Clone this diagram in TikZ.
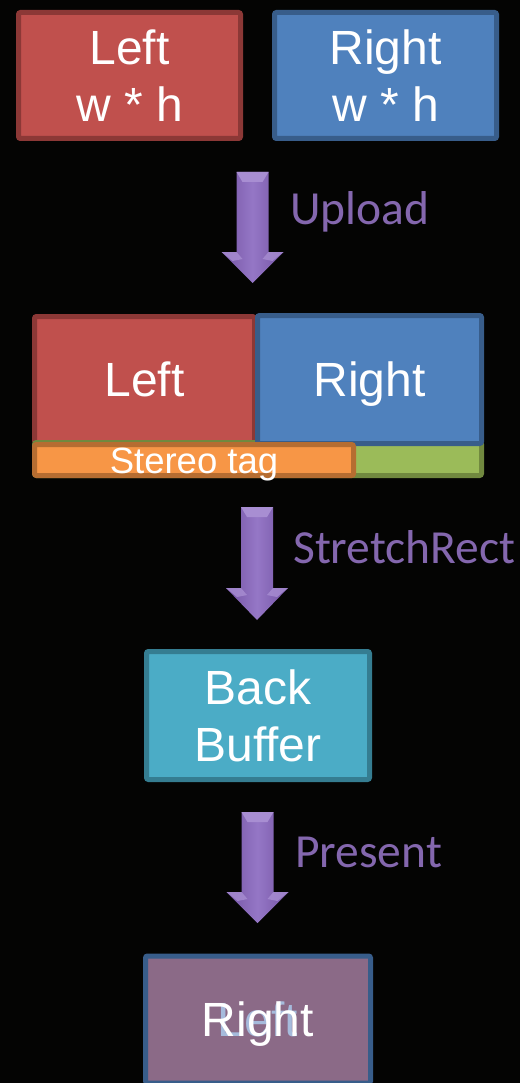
\documentclass[tikz,border=0pt]{standalone}
\usepackage{fontspec}
\setmainfont{Liberation Sans}
\newfontfamily\lblfont{Carlito}
\definecolor{bg}{HTML}{040403}
\definecolor{redF}{HTML}{C0504D}
\definecolor{redD}{HTML}{8C3836}
\definecolor{bluF}{HTML}{4F81BD}
\definecolor{bluD}{HTML}{385D8A}
\definecolor{cyaF}{HTML}{4BACC6}
\definecolor{cyaD}{HTML}{357D91}
\definecolor{grnF}{HTML}{9BBB59}
\definecolor{grnD}{HTML}{71893F}
\definecolor{orgF}{HTML}{F79646}
\definecolor{orgD}{HTML}{B66D31}
\definecolor{purF}{HTML}{8B6A87}
\definecolor{arrD}{HTML}{7454A4}
\definecolor{arrL}{HTML}{9577C6}
\definecolor{arrH}{HTML}{A88ED2}
\definecolor{lblC}{HTML}{8467AE}
\definecolor{ghost}{HTML}{A9C4E6}
\newcommand\purplearrow[4]{%
  \path[left color=arrD, right color=arrD, middle color=arrL]
    (#1-16,#2) -- (#1+16,#2) -- (#1+16,#3) -- (#1+31,#3) -- (#1,#4)
    -- (#1-31,#3) -- (#1-16,#3) -- cycle;
  \fill[arrH] (#1-16,#2) -- (#1+16,#2) -- (#1+10,#2+10) -- (#1-10,#2+10) -- cycle;
  \fill[arrH, opacity=.8] (#1-31,#3) -- (#1-16,#3) -- (#1-10,#3+7) -- (#1-20,#3+9) -- cycle;
  \fill[arrH, opacity=.8] (#1+31,#3) -- (#1+16,#3) -- (#1+10,#3+7) -- (#1+20,#3+9) -- cycle;
}
\begin{document}
\begin{tikzpicture}[x=1pt, y=-1pt,
  box/.style={rectangle, draw, line width=5pt, rounded corners=2pt, inner sep=0pt,
    text=white, font=\fontsize{48}{57}\selectfont, align=center},
  lbl/.style={anchor=base west, inner sep=0pt, text=lblC, font=\lblfont\fontsize{47.5}{52}\selectfont}]
\useasboundingbox (0,0) rectangle (520,1083);
\fill[bg] (0,0) rectangle (520,1083);

% top row
\node[box, fill=redF, draw=redD, minimum width=222pt, minimum height=126pt] (L0) at (129.5,75.5) {Left\\w * h};
\node[box, fill=bluF, draw=bluD, minimum width=222pt, minimum height=126pt] (R0) at (385.5,75.5) {Right\\w * h};

% Upload arrow
\purplearrow{252.5}{172}{252}{283}
\node[lbl] (up) at (290,225) {Upload};

% combined buffer
\node[box, fill=redF, draw=redD, minimum width=220pt, minimum height=126pt, text depth=0pt] (L1) at (144.5,379.5) {Left};
\node[box, fill=grnF, draw=grnD, minimum width=447pt, minimum height=33pt] (G1) at (258,459) {};
\node[box, fill=bluF, draw=bluD, minimum width=224pt, minimum height=128pt, text depth=0pt] (R1) at (369.5,379.5) {Right};
\node[box, fill=orgF, draw=orgD, minimum width=319pt, minimum height=31pt] (T1) at (194,460) {};
\node[anchor=base, inner sep=0pt, text=white, font=\fontsize{36.5}{40}\selectfont] (T1txt) at (194,473) {Stereo tag};

% StretchRect arrow
\purplearrow{257}{507}{588}{620}
\node[lbl] (sr) at (293,563) {StretchRect};

% back buffer
\node[box, fill=cyaF, draw=cyaD, minimum width=223pt, minimum height=128pt] (BB) at (258,715.5) {Back\\Buffer};

% Present arrow
\purplearrow{257.5}{812}{892}{923}
\node[lbl] (pr) at (295,867) {Present};

% screen
\node[box, fill=purF, draw=bluD, minimum width=225pt, minimum height=127pt] (SC) at (258,1019.5) {};
\node[inner sep=0pt, text=ghost, opacity=.9, text depth=0pt, font=\fontsize{48}{57}\selectfont] (SCl) at (258,1019.5) {Left};
\node[inner sep=0pt, text=white, text depth=0pt, font=\fontsize{48}{57}\selectfont] (SCr) at (258,1019.5) {Right};
\end{tikzpicture}
\end{document}
